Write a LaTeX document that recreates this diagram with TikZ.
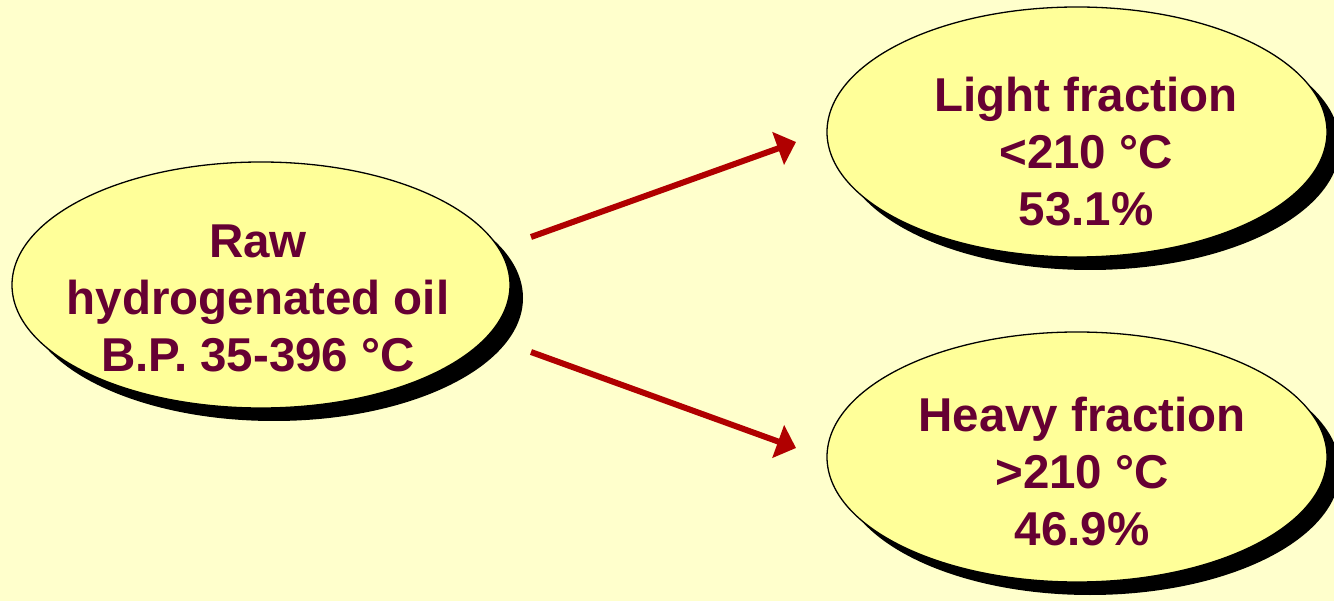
\documentclass[tikz,border=0pt]{standalone}
\usepackage{fontspec}
\setmainfont{Liberation Sans}
\usetikzlibrary{shapes.geometric,shadows,arrows.meta}
\definecolor{bg}{HTML}{FFFFCC}
\definecolor{ellfill}{HTML}{FFFF99}
\definecolor{txt}{HTML}{660033}
\definecolor{arr}{HTML}{B00000}
\tikzset{
  oval/.style={ellipse, draw=black, line width=1.3pt, fill=ellfill,
    general shadow={shadow xshift=13pt, shadow yshift=-13pt, fill=black}},
  lbl/.style={text=txt, align=center, font=\fontsize{47.5}{57}\selectfont\bfseries},
  flow/.style={draw=arr, line width=6pt, -{Triangle[length=19pt, width=34pt]}}
}
\begin{document}
\begin{tikzpicture}[x=1pt, y=-1pt]
\fill[bg] (0,0) rectangle (1334,601);
\useasboundingbox (0,0) rectangle (1334,601);
\node[oval, minimum width=498pt, minimum height=246pt] (raw) at (261,285) {};
\node[oval, minimum width=500pt, minimum height=250pt] (light) at (1077,132) {};
\node[oval, minimum width=500pt, minimum height=250pt] (heavy) at (1077,457) {};
\node[lbl] (rawt) at (258,298) {Raw\\hydrogenated oil\\B.P. 35-396 °C};
\node[lbl] (lightt) at (1086,152) {Light fraction\\<210 °C\\53.1\%};
\node[lbl] (heavyt) at (1082,472) {Heavy fraction\\>210 °C\\46.9\%};
\coordinate (a1s) at (531,237);
\coordinate (a1e) at (796,142);
\coordinate (a2s) at (531,352);
\coordinate (a2e) at (796,448);
\draw[flow] (a1s) -- (a1e);
\draw[flow] (a2s) -- (a2e);
\end{tikzpicture}
\end{document}
